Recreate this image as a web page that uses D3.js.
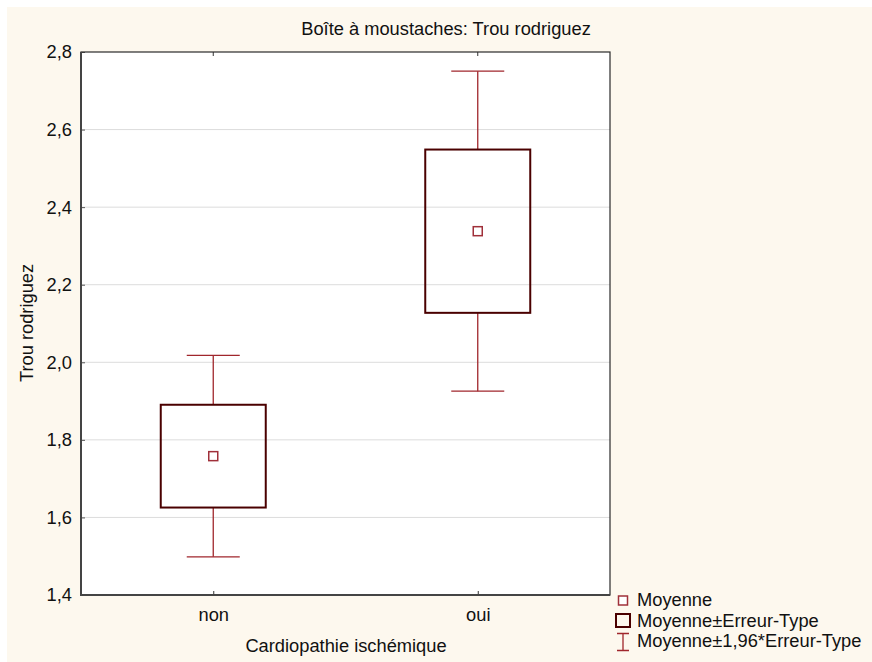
<!DOCTYPE html>
<html>
<head>
<meta charset="utf-8">
<script src="https://cdn.jsdelivr.net/npm/d3@7"></script>
<style>
  html, body { margin: 0; padding: 0; background: #ffffff; }
  svg { display: block; font-family: "Liberation Sans", Arial, sans-serif; }
</style>
</head>
<body>
<svg id="chart" width="872" height="662"></svg>
<script>
// Groups and their summary statistics (mean and standard error)
const categories = ["non", "oui"];
const means = [1.758, 2.338];
const stdErrors = [0.1325, 0.2105];
const yTicks = [1.4, 1.6, 1.8, 2.0, 2.2, 2.4, 2.6, 2.8];
const legendLabels = ["Moyenne", "Moyenne±Erreur-Type", "Moyenne±1,96*Erreur-Type"];

const svg = d3.select("#chart");
const W = 872, H = 662;
const m = { left: 81, right: 610, top: 52, bottom: 595 };
const FS = 18.3;

const cream = "#fdf8ee";
const boxColor = "#4a0000";
const whiskerColor = "#a0262c";
const meanColor = "#a0303a";

svg.append("rect").attr("x", 7).attr("y", 7).attr("width", W - 7).attr("height", H - 7).attr("fill", cream);

const x = d3.scalePoint().domain(categories).range([m.left, m.right]).padding(0.5);
const y = d3.scaleLinear().domain([1.4, 2.8]).range([m.bottom, m.top]);
const fmt = v => d3.format(".1f")(v).replace(".", ",");

// plot area
svg.append("rect").attr("x", m.left).attr("y", m.top)
  .attr("width", m.right - m.left).attr("height", m.bottom - m.top).attr("fill", "#ffffff");

// gridlines
svg.append("g").selectAll("line").data(yTicks.filter(t => t > 1.4 && t < 2.8)).join("line")
  .attr("x1", m.left).attr("x2", m.right)
  .attr("y1", d => y(d)).attr("y2", d => y(d))
  .attr("stroke", "#dcdcdc").attr("stroke-width", 1);

// left axis
const yAxis = svg.append("g").attr("transform", `translate(${m.left},0)`)
  .call(d3.axisLeft(y).tickValues(yTicks).tickFormat(fmt).tickSizeInner(-4).tickSizeOuter(0).tickPadding(9));
yAxis.select(".domain").remove();
yAxis.selectAll(".tick line").attr("stroke", "#555");
yAxis.selectAll("text").attr("font-size", FS).attr("fill", "#111").attr("font-family", "Liberation Sans, Arial, sans-serif");

// bottom axis
const xAxis = svg.append("g").attr("transform", `translate(0,${m.bottom})`)
  .call(d3.axisBottom(x).tickSizeInner(-4).tickSizeOuter(0).tickPadding(13.5));
xAxis.select(".domain").remove();
xAxis.selectAll(".tick line").attr("stroke", "#333");
xAxis.selectAll("text").attr("font-size", FS).attr("fill", "#111").attr("font-family", "Liberation Sans, Arial, sans-serif");

// top ticks
svg.append("g").selectAll("line").data(categories).join("line")
  .attr("x1", d => x(d)).attr("x2", d => x(d))
  .attr("y1", m.top).attr("y2", m.top + 4).attr("stroke", "#333");

// frame
svg.append("rect").attr("x", m.left).attr("y", m.top)
  .attr("width", m.right - m.left).attr("height", m.bottom - m.top)
  .attr("fill", "none").attr("stroke", "#2a2a2a").attr("stroke-width", 1.2);
svg.append("path")
  .attr("d", `M${m.left},${m.top}V${m.bottom}H${m.right}`)
  .attr("fill", "none").attr("stroke", "#444").attr("stroke-width", 2);

const boxW = 105, capW = 53;
const groups = svg.append("g").selectAll("g").data(categories).join("g");

groups.each(function(c, i) {
  const g = d3.select(this);
  const cx = x(c);
  const mu = means[i], se = stdErrors[i];
  // whiskers: mean ± 1.96*SE
  const lo = mu - 1.96 * se, hi = mu + 1.96 * se;
  g.append("line").attr("x1", cx).attr("x2", cx).attr("y1", y(hi)).attr("y2", y(mu + se))
    .attr("stroke", whiskerColor).attr("stroke-width", 1.3);
  g.append("line").attr("x1", cx).attr("x2", cx).attr("y1", y(mu - se)).attr("y2", y(lo))
    .attr("stroke", whiskerColor).attr("stroke-width", 1.3);
  [hi, lo].forEach(v => g.append("line")
    .attr("x1", cx - capW / 2).attr("x2", cx + capW / 2)
    .attr("y1", y(v)).attr("y2", y(v))
    .attr("stroke", whiskerColor).attr("stroke-width", 1.3));
  // box: mean ± SE
  g.append("rect").attr("x", cx - boxW / 2).attr("y", y(mu + se))
    .attr("width", boxW).attr("height", y(mu - se) - y(mu + se))
    .attr("fill", "none").attr("stroke", boxColor).attr("stroke-width", 2);
  // mean marker
  g.append("rect").attr("x", cx - 4.5).attr("y", y(mu) - 4.5)
    .attr("width", 9).attr("height", 9)
    .attr("fill", "#ffffff").attr("stroke", meanColor).attr("stroke-width", 1.5);
});

// title and axis titles
const txt = (s, xx, yy, opts = {}) => svg.append("text").text(s)
  .attr("x", xx).attr("y", yy).attr("font-size", FS).attr("fill", "#111")
  .attr("text-anchor", opts.anchor || "middle")
  .attr("transform", opts.rotate ? `rotate(-90,${xx},${yy})` : null);

txt("Boîte à moustaches: Trou rodriguez", 446, 35);
txt("Cardiopathie ischémique", 346, 652);
txt("Trou rodriguez", 33, 323, { rotate: true });

// legend
const lx = 623;
const leg = svg.append("g");
leg.append("rect").attr("x", lx - 4.5).attr("y", 596).attr("width", 9).attr("height", 9)
  .attr("fill", "#fff").attr("stroke", meanColor).attr("stroke-width", 1.5);
leg.append("rect").attr("x", lx - 7).attr("y", 614).attr("width", 14).attr("height", 13)
  .attr("fill", "none").attr("stroke", boxColor).attr("stroke-width", 2);
leg.append("path").attr("d", `M${lx - 6},633.5H${lx + 6}M${lx},633.5V650.5M${lx - 6},650.5H${lx + 6}`)
  .attr("fill", "none").attr("stroke", whiskerColor).attr("stroke-width", 1.3);
legendLabels.forEach((s, i) => txt(s, 637, 606 + i * 20.5, { anchor: "start" }));
</script>
</body>
</html>
